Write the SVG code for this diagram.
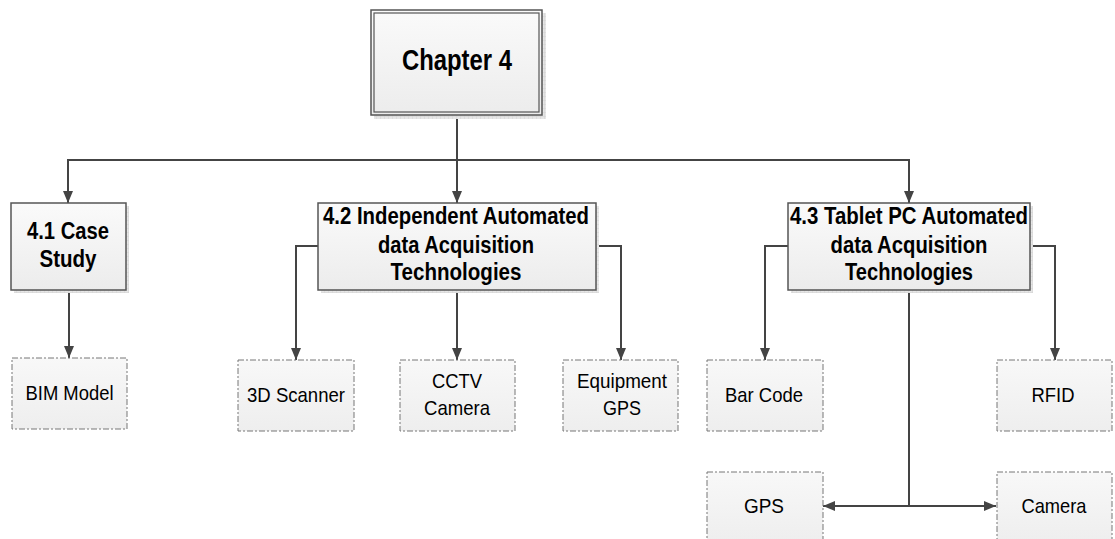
<svg xmlns="http://www.w3.org/2000/svg" width="1115" height="539" viewBox="0 0 1115 539">
<style>
.main{fill:url(#g1);stroke:#555;stroke-width:1.5}
.inner{fill:none;stroke:#555;stroke-width:1.2}
.shadow{fill:url(#hatch)}
.leaf{fill:url(#g2);stroke:#777;stroke-width:1;stroke-dasharray:6 2 2 2}
.tb{font-family:"Liberation Sans",Arial,sans-serif;font-weight:bold;fill:#000;text-anchor:middle}
.tr{font-family:"Liberation Sans",Arial,sans-serif;fill:#000;text-anchor:middle;font-size:21px}
.c{fill:none;stroke:#444;stroke-width:2}
</style>
<defs>
<linearGradient id="g1" x1="0" y1="0" x2="0" y2="1"><stop offset="0" stop-color="#fafafa"/><stop offset="1" stop-color="#ececec"/></linearGradient>
<linearGradient id="g2" x1="0" y1="0" x2="0" y2="1"><stop offset="0" stop-color="#f8f8f8"/><stop offset="1" stop-color="#eeeeee"/></linearGradient>
<pattern id="hatch" width="4" height="4" patternUnits="userSpaceOnUse"><rect width="4" height="4" fill="#e6e6e6"/><path d="M0 0H4M0 0V4" stroke="#d2d2d2" stroke-width="1"/></pattern>
<marker id="ah" viewBox="0 0 12 10" refX="12" refY="5" markerWidth="12" markerHeight="10" markerUnits="userSpaceOnUse" orient="auto"><path d="M0 0L12 5L0 10Z" fill="#444"/></marker>
</defs>

<g id="connectors">
<path class="c" d="M457 115V160"/>
<path class="c" d="M457 160H68V203" marker-end="url(#ah)"/>
<path class="c" d="M457 160V203" marker-end="url(#ah)"/>
<path class="c" d="M457 160H909V203" marker-end="url(#ah)"/>
<path class="c" d="M69 290V358" marker-end="url(#ah)"/>
<path class="c" d="M318 246H296V360" marker-end="url(#ah)"/>
<path class="c" d="M457 290V360" marker-end="url(#ah)"/>
<path class="c" d="M596 246H621V360" marker-end="url(#ah)"/>
<path class="c" d="M788 246H765V360" marker-end="url(#ah)"/>
<path class="c" d="M1030 246H1055V360" marker-end="url(#ah)"/>
<path class="c" d="M909 290V506"/>
<path class="c" d="M909 506H823" marker-end="url(#ah)"/>
<path class="c" d="M909 506H996" marker-end="url(#ah)"/>
</g>

<g id="chapter4">
<rect class="shadow" x="374" y="13" width="172" height="106"/>
<rect class="main" x="371" y="10" width="171" height="105"/>
<rect class="inner" x="374" y="13" width="165" height="99"/>
<text class="tb" x="457" y="70" font-size="29" textLength="110" lengthAdjust="spacingAndGlyphs">Chapter 4</text>
</g>

<g id="n41">
<rect class="shadow" x="14" y="206" width="115" height="87"/>
<rect class="main" x="11" y="203" width="115" height="87"/>
<text class="tb" font-size="23"><tspan x="68" y="239" textLength="82" lengthAdjust="spacingAndGlyphs">4.1 Case</tspan><tspan x="68" y="267" textLength="57" lengthAdjust="spacingAndGlyphs">Study</tspan></text>
</g>

<g id="n42">
<rect class="shadow" x="321" y="206" width="278" height="87"/>
<rect class="main" x="318" y="203" width="278" height="87"/>
<text class="tb" font-size="23"><tspan x="456" y="224" textLength="266" lengthAdjust="spacingAndGlyphs">4.2 Independent Automated</tspan><tspan x="456" y="253" textLength="156" lengthAdjust="spacingAndGlyphs">data Acquisition</tspan><tspan x="456" y="280" textLength="131" lengthAdjust="spacingAndGlyphs">Technologies</tspan></text>
</g>

<g id="n43">
<rect class="shadow" x="791" y="206" width="242" height="87"/>
<rect class="main" x="788" y="203" width="242" height="87"/>
<text class="tb" font-size="23"><tspan x="909" y="224" textLength="238" lengthAdjust="spacingAndGlyphs">4.3 Tablet PC Automated</tspan><tspan x="909" y="253" textLength="157" lengthAdjust="spacingAndGlyphs">data Acquisition</tspan><tspan x="909" y="280" textLength="128" lengthAdjust="spacingAndGlyphs">Technologies</tspan></text>
</g>

<g id="bim">
<rect class="leaf" x="12" y="358" width="115" height="71"/>
<text class="tr" x="69.5" y="400" textLength="88" lengthAdjust="spacingAndGlyphs">BIM Model</text>
</g>

<g id="scanner">
<rect class="leaf" x="238" y="360" width="116" height="71"/>
<text class="tr" x="296" y="402" textLength="98" lengthAdjust="spacingAndGlyphs">3D Scanner</text>
</g>

<g id="cctv">
<rect class="leaf" x="400" y="360" width="115" height="71"/>
<text class="tr"><tspan x="457" y="388" textLength="50" lengthAdjust="spacingAndGlyphs">CCTV</tspan><tspan x="457" y="415" textLength="66" lengthAdjust="spacingAndGlyphs">Camera</tspan></text>
</g>

<g id="equipgps">
<rect class="leaf" x="563" y="360" width="115" height="71"/>
<text class="tr"><tspan x="622" y="388" textLength="90" lengthAdjust="spacingAndGlyphs">Equipment</tspan><tspan x="622" y="415" textLength="38" lengthAdjust="spacingAndGlyphs">GPS</tspan></text>
</g>

<g id="barcode">
<rect class="leaf" x="707" y="360" width="116" height="71"/>
<text class="tr" x="764" y="402" textLength="78" lengthAdjust="spacingAndGlyphs">Bar Code</text>
</g>

<g id="rfid">
<rect class="leaf" x="997" y="360" width="115" height="71"/>
<text class="tr" x="1053" y="402" textLength="43" lengthAdjust="spacingAndGlyphs">RFID</text>
</g>

<g id="gps">
<rect class="leaf" x="707" y="472" width="116" height="71"/>
<text class="tr" x="764" y="513" textLength="40" lengthAdjust="spacingAndGlyphs">GPS</text>
</g>

<g id="camera">
<rect class="leaf" x="997" y="472" width="115" height="71"/>
<text class="tr" x="1054" y="513" textLength="65" lengthAdjust="spacingAndGlyphs">Camera</text>
</g>
</svg>
